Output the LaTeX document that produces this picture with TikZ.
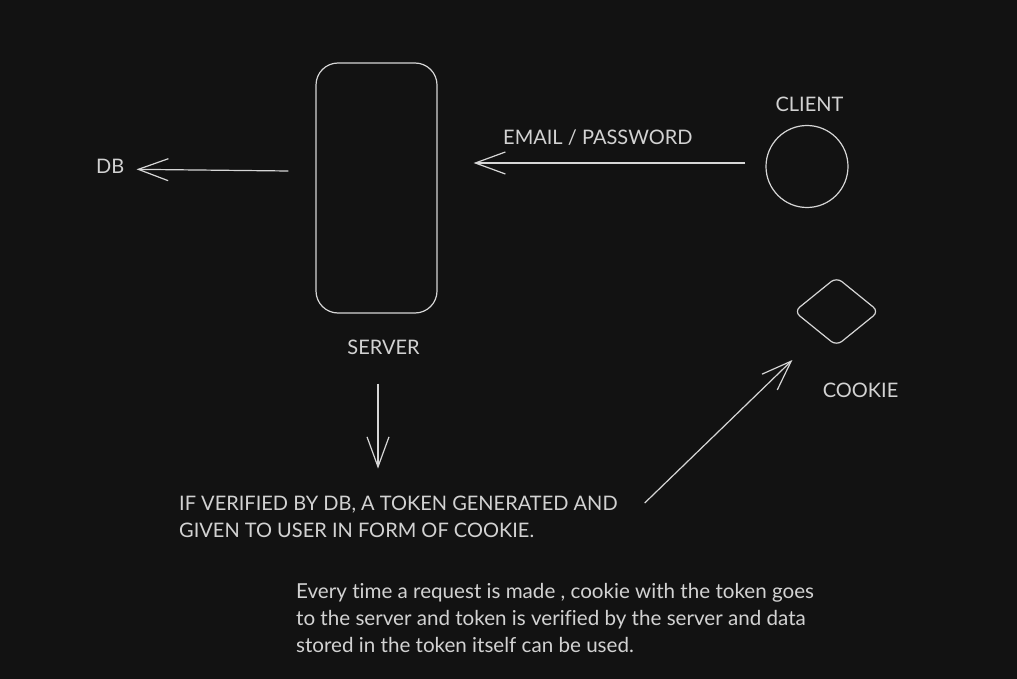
\documentclass[tikz,border=0pt]{standalone}
\usepackage{fontspec}
\setmainfont{Lato}[Ligatures=NoCommon]
\usetikzlibrary{arrows.meta,shapes.geometric,calc}
\definecolor{bg}{HTML}{121212}
\definecolor{ink}{HTML}{D6D6D6}
\definecolor{txt}{HTML}{D2D2D2}
\begin{document}
\begin{tikzpicture}[x=1pt,y=-1pt,
  inkline/.style={draw=ink, line width=1.2pt},
  arr/.style={draw=ink, line width=1.2pt, -{Straight Barb[length=30pt,width=22pt]}},
  lbl/.style={text=txt, inner sep=0pt, font=\fontsize{20}{24}\selectfont},
  para/.style={text=txt, inner sep=0pt, align=left, font=\fontsize{20}{27}\selectfont}
  ]
\fill[bg] (0,0) rectangle (1017,679);
\useasboundingbox (0,0) rectangle (1017,679);

\node[inkline, rounded corners=22pt, minimum width=121pt, minimum height=250pt, inner sep=0pt] (srv) at (376.5,188) {};
\node[lbl, anchor=base] (srvl) at (383.5,354) {SERVER};
\node[lbl, anchor=base west] (db) at (96,174) {DB};
\node[inkline, circle, minimum size=82pt, inner sep=0pt] (cli) at (807,166.5) {};
\node[lbl, anchor=base] (clil) at (809.5,112) {CLIENT};
\node[inkline, diamond, minimum width=85pt, minimum height=69pt, inner sep=0pt, rounded corners=7pt] (ck) at (836.5,311.5) {};
\node[lbl, anchor=base] (ckl) at (860.5,397) {COOKIE};
\node[lbl, anchor=base west] (em) at (503,145) {EMAIL / PASSWORD};
\node[para, anchor=north west] (ver) at (179,496) {IF VERIFIED BY DB, A TOKEN GENERATED AND\\GIVEN TO USER IN FORM OF COOKIE.};
\node[para, anchor=north west, font=\fontsize{20.6}{27}\selectfont] (note) at (296,583) {Every time a request is made , cookie with the token goes\\to the server and token is verified by the server and data\\stored in the token itself can be used.};

\draw[arr] ($(srv.west)+(-27,-17)$) -- ($(db.east)+(12,2.5)$);
\draw[arr] ($(cli.west)+(-20,-3.5)$) -- ($(srv.east)+(36,-25)$);
\draw[arr] ($(srv.south)+(1.5,70)$) -- ($(srv.south)+(1.5,155)$);
\draw[arr] ($(ver.north east)+(27,7)$) -- ($(ck.west)+(-1,48.5)$);
\end{tikzpicture}
\end{document}
